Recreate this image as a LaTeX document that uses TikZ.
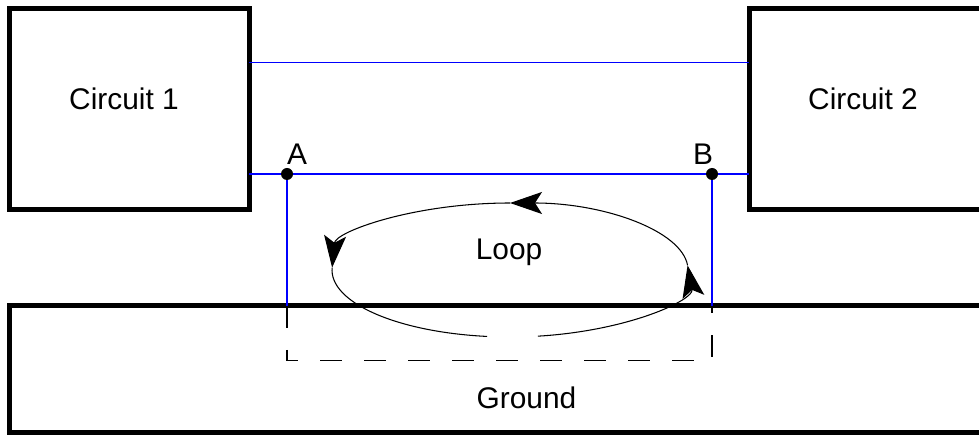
\documentclass[tikz,border=0pt]{standalone}
\usepackage{fontspec}
\setmainfont{Liberation Sans}
\usetikzlibrary{arrows.meta, positioning, calc}

\tikzset{
  circuit/.style={draw, line width=0.1cm, inner sep=0pt, outer sep=0pt,
    minimum width=4.79cm, minimum height=4.02cm},
  wire/.style={blue, line width=0.7pt},
  loopline/.style={black, line width=0.6pt},
  looptip/.style={-{Stealth[length=6.4mm, width=4.4mm, inset=1.4mm]}},
  lbl/.style={anchor=base, inner sep=0pt}
}

\begin{document}
\begin{tikzpicture}[font=\fontsize{17}{20}\selectfont]
  \useasboundingbox (0,0) rectangle (19.58,8.72);
  \clip (0,0) rectangle (19.58,8.72);

  % Circuits
  \node[circuit] (c1) at (2.585,6.54) {};
  \node[circuit] (c2) at (17.375,6.54) {};
  \node[lbl] (c1txt) at (2.48,6.52) {Circuit 1};
  \node[lbl] (c2txt) at (17.26,6.52) {Circuit 2};

  % Ground plane
  \node[circuit, minimum width=20cm, minimum height=2.534cm, anchor=north west] (gnd) at (0.19,2.604) {};
  \node[lbl] (gndtxt) at (10.53,0.56) {Ground};

  % Signal wires
  \coordinate (A) at (5.74,5.24);
  \coordinate (B) at (14.24,5.24);
  \draw[wire] (c1.east |- 0,7.466) -- (c2.west |- 0,7.466);
  \draw[wire] (c1.east |- A) -- (c2.west |- A);
  \draw[wire] (A) -- (A |- gnd.north);
  \draw[wire] (B) -- (B |- gnd.north);

  % Return path through ground
  \draw[loopline, dash pattern=on 0.44cm off 0.44cm]
    (A |- gnd.north) -- (A |- 0,1.506) -- (B |- 0,1.506) -- (B |- gnd.north);

  % Points A and B
  \fill (A) circle (0.12);
  \fill (B) circle (0.12);
  \node[lbl] (lblA) at (5.94,5.42) {A};
  \node[lbl] (lblB) at (14.06,5.42) {B};

  % Loop
  \coordinate (lc) at (10.2,3.32);
  \foreach \a/\b in {-81/4, 4/90, 90/178}
    \draw[loopline, looptip] ([shift={(\a:3.56cm and 1.34cm)}]lc)
      arc[start angle=\a, end angle=\b, x radius=3.56, y radius=1.34];
  \draw[loopline] ([shift={(178:3.56cm and 1.34cm)}]lc)
    arc[start angle=178, end angle=262.6, x radius=3.56, y radius=1.34];
  \node[lbl] (looptxt) at (10.18,3.52) {Loop};
\end{tikzpicture}
\end{document}
